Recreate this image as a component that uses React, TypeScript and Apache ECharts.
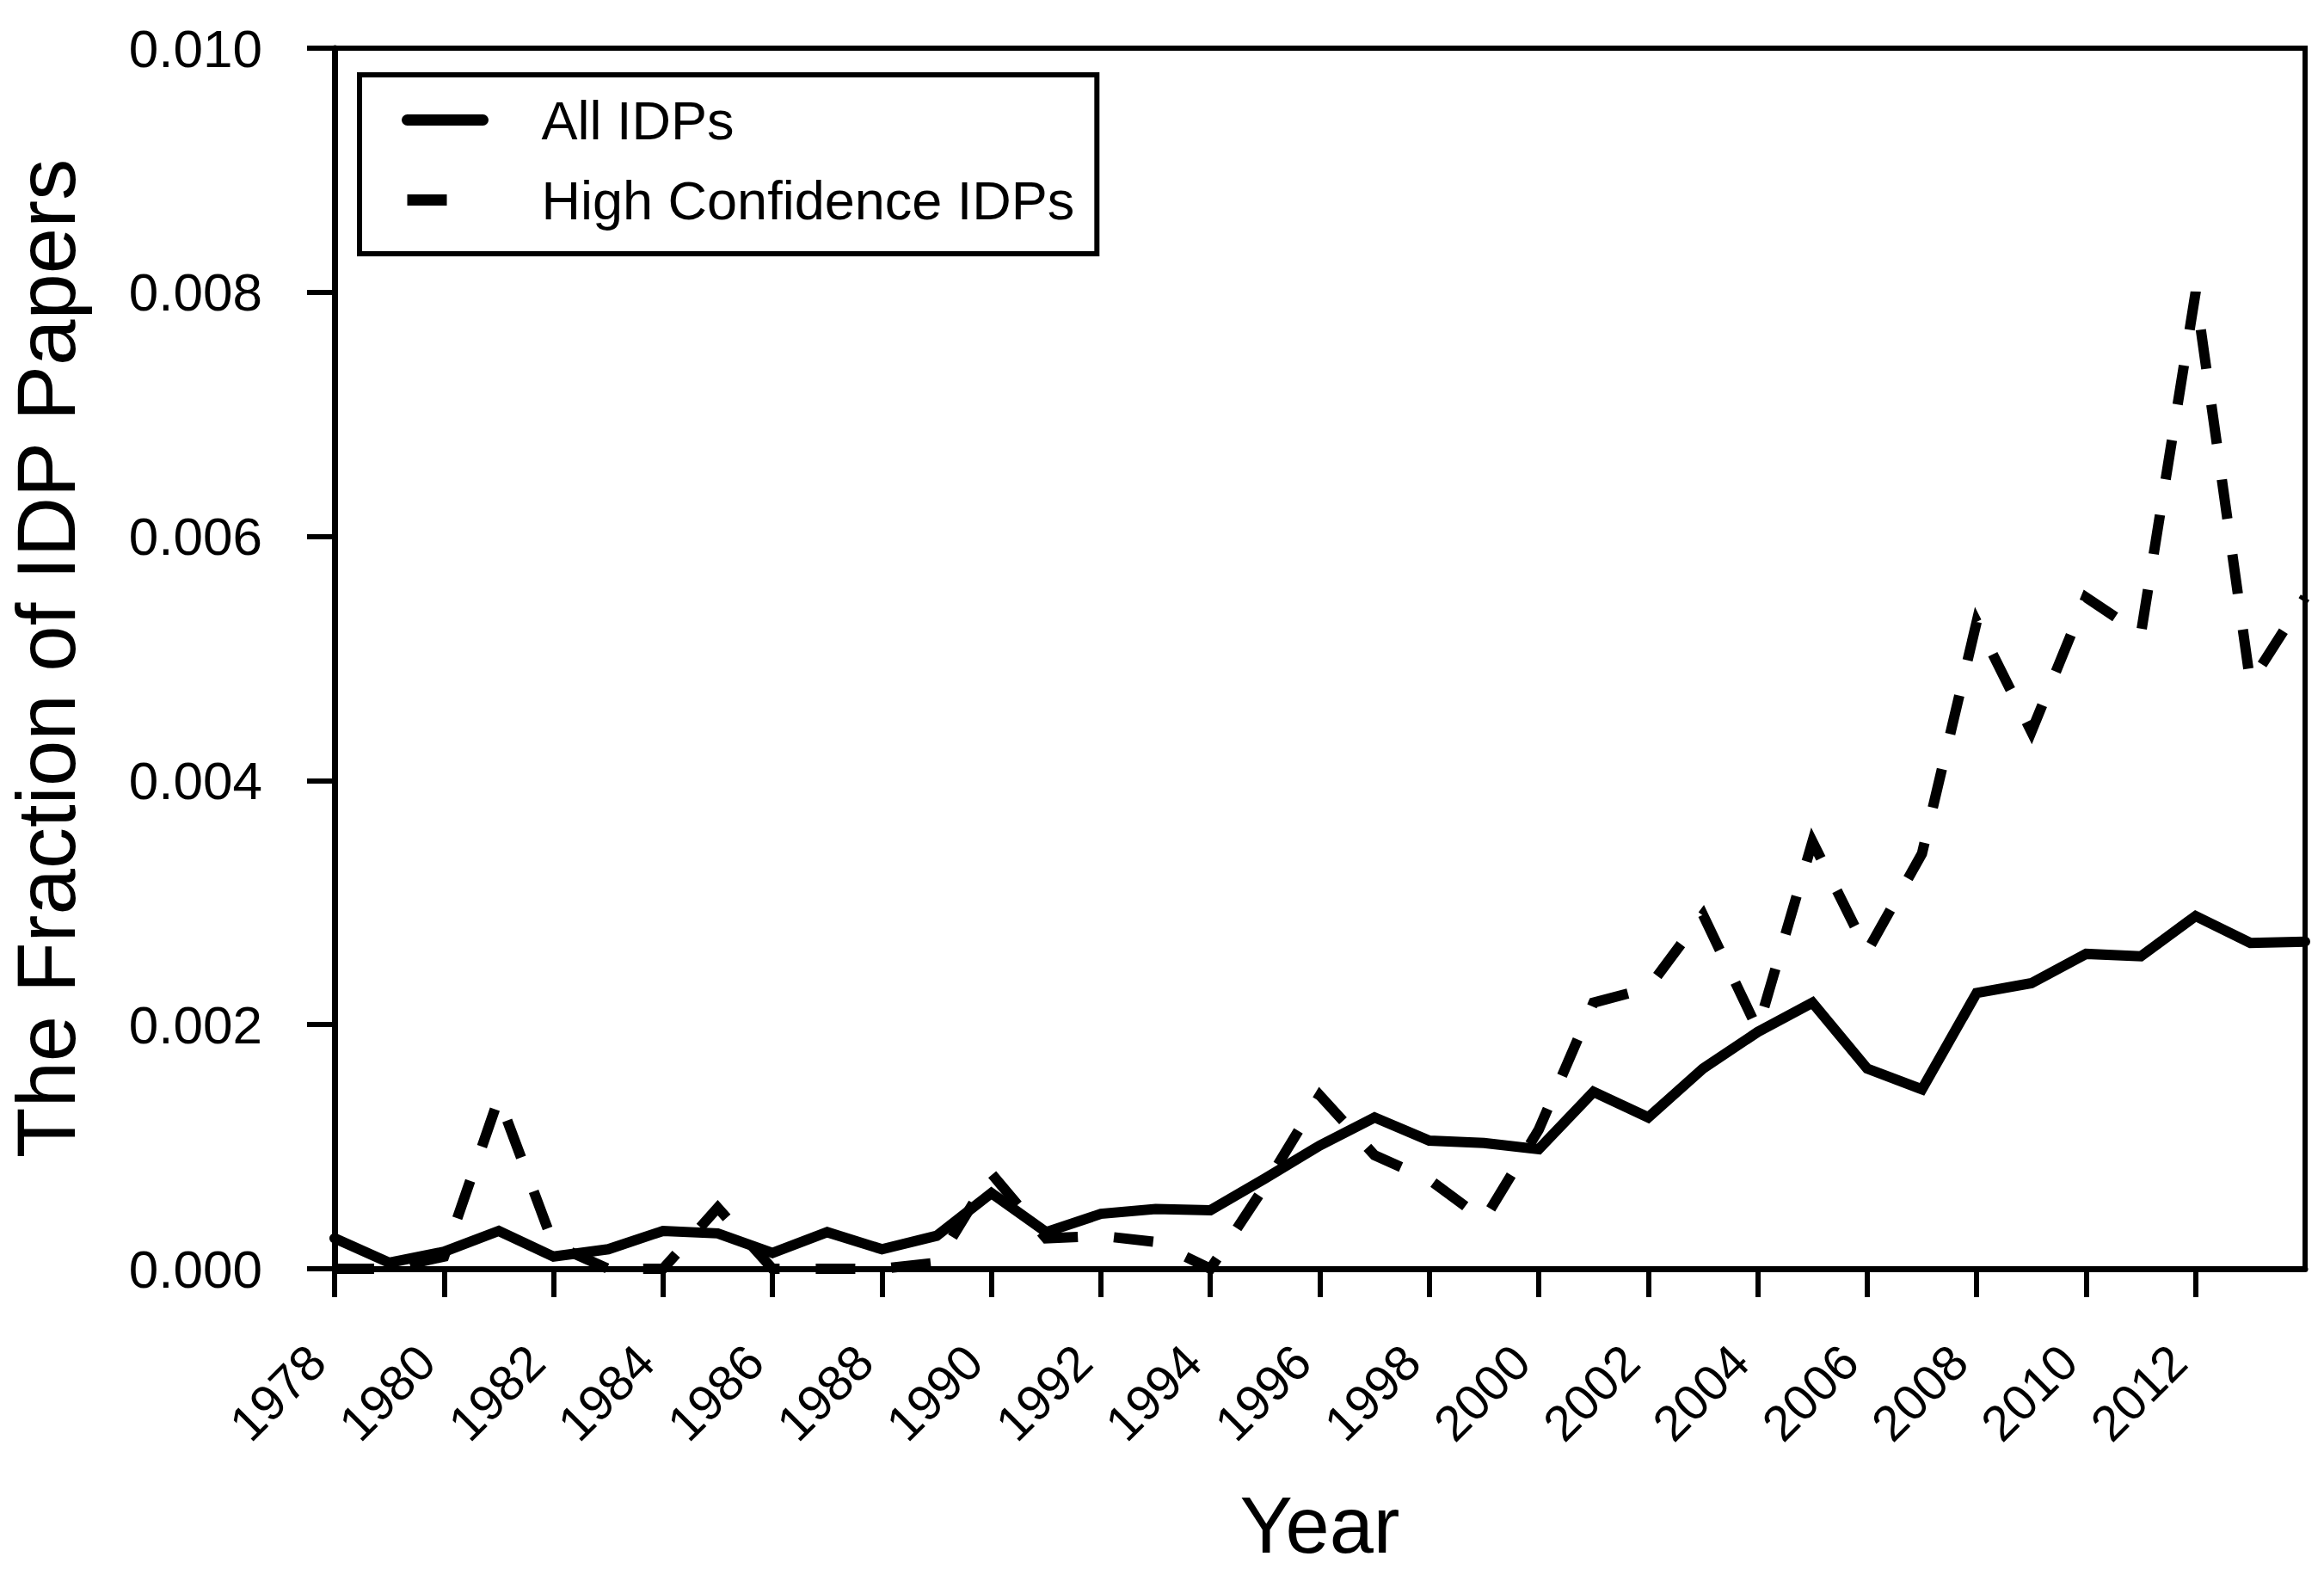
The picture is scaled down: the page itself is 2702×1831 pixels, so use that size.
import React, { useEffect, useRef } from "react";
import * as echarts from "echarts";

const years: string[] = [
  "1978", "1979", "1980", "1981", "1982", "1983", "1984", "1985", "1986", "1987",
  "1988", "1989", "1990", "1991", "1992", "1993", "1994", "1995", "1996", "1997",
  "1998", "1999", "2000", "2001", "2002", "2003", "2004", "2005", "2006", "2007",
  "2008", "2009", "2010", "2011", "2012", "2013", "2014",
];

const allIdps: number[] = [
  0.00025, 0.00005, 0.00014, 0.00031, 0.0001, 0.00016, 0.00031, 0.00029, 0.00013, 0.0003,
  0.00016, 0.00027, 0.00062, 0.0003, 0.00045, 0.00049, 0.00048, 0.00074, 0.00101, 0.00124,
  0.00105, 0.00103, 0.00098, 0.00145, 0.00124, 0.00164, 0.00194, 0.00218, 0.00164, 0.00147,
  0.00226, 0.00234, 0.00258, 0.00256, 0.00289, 0.00267, 0.00268,
];

const highConfidenceIdps: number[] = [
  0, 0, 0.0001, 0.0014, 0.0002, 0, 0, 0.0005, 0, 0,
  0, 0.00005, 0.00078, 0.00025, 0.00027, 0.00022, 0, 0.00068, 0.00142, 0.00093,
  0.00073, 0.0004, 0.00114, 0.00218, 0.0023, 0.0029, 0.00196, 0.0035, 0.0026, 0.0034,
  0.0053, 0.0044, 0.0055, 0.0052, 0.008, 0.0048, 0.0055,
];

const seriesNames: string[] = ["All IDPs", "High Confidence IDPs"];

const FONT = "'Liberation Sans', Arial, sans-serif";

export default function App() {
  const ref = useRef<HTMLDivElement>(null);

  useEffect(() => {
    if (!ref.current) return;
    const chart = echarts.init(ref.current, undefined, { renderer: "svg" });
    const showIdx = (index: number) => index % 2 === 0 && index < years.length - 1;
    chart.setOption({
      animation: false,
      backgroundColor: "#ffffff",
      textStyle: { fontFamily: FONT, color: "#000" },
      grid: {
        left: 389,
        top: 56,
        width: 2291,
        height: 1419,
        show: true,
        borderColor: "#000",
        borderWidth: 6,
        backgroundColor: "transparent",
        outerBoundsMode: "none",
      },
      legend: {
        orient: "vertical",
        left: 418,
        top: 87,
        data: seriesNames,
        selectedMode: false,
        backgroundColor: "#fff",
        borderColor: "#000",
        borderWidth: 6,
        borderRadius: 0,
        padding: [21, 26, 31, 49],
        itemGap: 30,
        itemWidth: 88,
        itemHeight: 14,
        lineStyle: { width: 13 },
        itemStyle: { opacity: 0 },
        textStyle: {
          fontFamily: FONT,
          fontSize: 63,
          lineHeight: 60,
          color: "#000",
          padding: [0, 0, 0, 63],
        },
      },
      xAxis: {
        type: "category",
        data: years,
        boundaryGap: false,
        name: "Year",
        nameLocation: "middle",
        nameGap: 252,
        nameTextStyle: { fontFamily: FONT, fontSize: 92, color: "#000" },
        axisLine: { lineStyle: { color: "#000", width: 7 } },
        axisTick: {
          show: true,
          inside: false,
          length: 33,
          lineStyle: { color: "#000", width: 6 },
          interval: (index: number) => showIdx(index),
        },
        axisLabel: {
          rotate: 45,
          margin: 119,
          verticalAlign: "bottom",
          fontFamily: FONT,
          fontSize: 58,
          color: "#000",
          interval: (index: number) => showIdx(index),
        },
        splitLine: { show: false },
      },
      yAxis: {
        type: "value",
        min: 0,
        max: 0.01,
        interval: 0.002,
        name: "The Fraction of IDP Papers",
        nameLocation: "middle",
        nameGap: 288,
        nameTextStyle: { fontFamily: FONT, fontSize: 96, color: "#000" },
        axisLine: { show: true, lineStyle: { color: "#000", width: 7 } },
        axisTick: {
          show: true,
          inside: false,
          length: 32,
          lineStyle: { color: "#000", width: 6 },
        },
        axisLabel: {
          margin: 84,
          fontFamily: FONT,
          fontSize: 62,
          color: "#000",
          formatter: (v: number) => v.toFixed(3),
        },
        splitLine: { show: false },
      },
      series: [
        {
          name: seriesNames[0],
          type: "line",
          data: allIdps,
          symbol: "none",
          z: 3,
          lineStyle: { color: "#000", width: 12, type: "solid", cap: "round", join: "miter" },
          itemStyle: { color: "#000" },
        },
        {
          name: seriesNames[1],
          type: "line",
          data: highConfidenceIdps,
          symbol: "none",
          z: 2,
          lineStyle: { color: "#000", width: 12, type: [46, 42], cap: "butt", join: "miter" },
          itemStyle: { color: "#000" },
        },
      ],
    });
    return () => chart.dispose();
  }, []);

  return (
    <div
      ref={ref}
      style={{ position: "fixed", left: 0, top: 0, width: 2702, height: 1831, background: "#fff" }}
    />
  );
}
